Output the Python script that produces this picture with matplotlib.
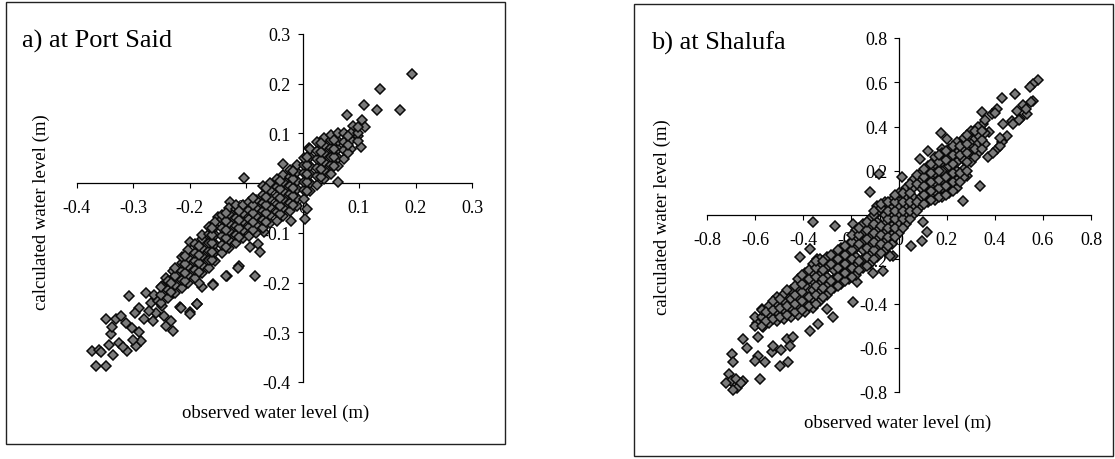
import matplotlib.pyplot as plt
from matplotlib.patches import Rectangle

plt.rcParams.update({
    'font.family': 'serif',
    'font.serif': ['Liberation Serif', 'DejaVu Serif'],
    'axes.linewidth': 0.9,
})

# ---- data (observed, calculated), metres ----
# a) Port Said: scattered points
obs_a_out = [0.193, 0.137, 0.108, 0.131, 0.172, 0.079, 0.105, 0.110, 0.099, 0.090,
             0.104, 0.063, -0.103, -0.035, 0.012, 0.008, 0.004, -0.021,
             -0.069, -0.078, -0.093, -0.075, -0.084, -0.113, -0.134, -0.158, -0.178,
             -0.199, -0.187, -0.216, -0.199, -0.128, -0.149,
             -0.366, -0.348, -0.372, -0.360, -0.342, -0.324, -0.310, -0.295, -0.286,
             -0.339, -0.348, -0.330, -0.313, -0.301, -0.307, -0.289, -0.277, -0.268,
             -0.280, -0.265, -0.248, -0.259, -0.245, -0.242, -0.233, -0.230, -0.248,
             -0.242, -0.230, -0.230, -0.215, -0.200, -0.186, -0.183, -0.159, -0.135,
             -0.115, -0.356, -0.335, -0.318, -0.300, -0.290, -0.338, -0.322, -0.296,
             -0.272, -0.262, -0.255]
calc_a_out = [0.219, 0.189, 0.157, 0.147, 0.147, 0.137, 0.128, 0.112, 0.095, 0.115,
              0.072, 0.002, 0.011, 0.039, 0.070, -0.053, -0.073, -0.077,
              -0.099, -0.122, -0.128, -0.139, -0.186, -0.166, -0.186, -0.203, -0.209,
              -0.260, -0.243, -0.250, -0.119, -0.037, -0.069,
              -0.368, -0.368, -0.338, -0.335, -0.325, -0.321, -0.338, -0.328, -0.318,
              -0.304, -0.274, -0.274, -0.281, -0.291, -0.227, -0.251, -0.220, -0.241,
              -0.274, -0.278, -0.247, -0.261, -0.268, -0.288, -0.278, -0.298, -0.207,
              -0.190, -0.177, -0.220, -0.251, -0.264, -0.244, -0.200, -0.204, -0.187,
              -0.170, -0.340, -0.345, -0.330, -0.315, -0.300, -0.290, -0.268, -0.262,
              -0.258, -0.225, -0.238]

# a) Port Said: dense band
obs_a_core = [
    -0.250, -0.250, -0.250,
    -0.238, -0.238, -0.238,
    -0.226, -0.226, -0.226, -0.226,
    -0.214, -0.214, -0.214, -0.214, -0.214,
    -0.202, -0.202, -0.202, -0.202, -0.202,
    -0.190, -0.190, -0.190, -0.190, -0.190,
    -0.178, -0.178, -0.178, -0.178, -0.178, -0.178,
    -0.166, -0.166, -0.166, -0.166, -0.166, -0.166,
    -0.154, -0.154, -0.154, -0.154, -0.154, -0.154,
    -0.142, -0.142, -0.142, -0.142, -0.142, -0.142,
    -0.130, -0.130, -0.130, -0.130, -0.130, -0.130,
    -0.118, -0.118, -0.118, -0.118, -0.118, -0.118,
    -0.106, -0.106, -0.106, -0.106, -0.106,
    -0.094, -0.094, -0.094, -0.094, -0.094,
    -0.082, -0.082, -0.082, -0.082, -0.082,
    -0.070, -0.070, -0.070, -0.070, -0.070, -0.070,
    -0.058, -0.058, -0.058, -0.058, -0.058, -0.058,
    -0.046, -0.046, -0.046, -0.046, -0.046, -0.046,
    -0.034, -0.034, -0.034, -0.034, -0.034, -0.034,
    -0.022, -0.022, -0.022, -0.022, -0.022, -0.022,
    -0.010, -0.010, -0.010, -0.010, -0.010, -0.010,
    0.002, 0.002, 0.002, 0.002, 0.002, 0.002,
    0.014, 0.014, 0.014, 0.014, 0.014, 0.014,
    0.026, 0.026, 0.026, 0.026, 0.026, 0.026,
    0.038, 0.038, 0.038, 0.038, 0.038, 0.038,
    0.050, 0.050, 0.050, 0.050, 0.050, 0.050,
    0.062, 0.062, 0.062, 0.062, 0.062,
    0.074, 0.074, 0.074, 0.074,
    0.086, 0.086, 0.086,
    0.098, 0.098, 0.098,
    # staggered points between the columns above
    -0.232, -0.232,
    -0.208, -0.208, -0.208, -0.208,
    -0.184, -0.184, -0.184, -0.184,
    -0.160, -0.160, -0.160, -0.160, -0.160,
    -0.136, -0.136, -0.136, -0.136, -0.136,
    -0.112, -0.112, -0.112, -0.112,
    -0.088, -0.088, -0.088, -0.088, -0.088,
    -0.064, -0.064, -0.064, -0.064, -0.064,
    -0.040, -0.040, -0.040, -0.040, -0.040,
    -0.016, -0.016, -0.016, -0.016, -0.016,
    0.008, 0.008, 0.008, 0.008, 0.008,
    0.032, 0.032, 0.032, 0.032, 0.032,
    0.056, 0.056, 0.056, 0.056,
    0.080, 0.080, 0.080,
]
calc_a_core = [
    -0.241, -0.225, -0.209,
    -0.231, -0.214, -0.197,
    -0.221, -0.204, -0.187, -0.170,
    -0.211, -0.194, -0.177, -0.160, -0.149,
    -0.201, -0.184, -0.167, -0.150, -0.134,
    -0.191, -0.174, -0.157, -0.140, -0.123,
    -0.181, -0.164, -0.147, -0.130, -0.113, -0.104,
    -0.171, -0.154, -0.137, -0.120, -0.103, -0.089,
    -0.156, -0.139, -0.122, -0.105, -0.088, -0.079,
    -0.141, -0.124, -0.107, -0.090, -0.073, -0.064,
    -0.131, -0.114, -0.097, -0.080, -0.063, -0.049,
    -0.121, -0.104, -0.087, -0.070, -0.053, -0.044,
    -0.111, -0.094, -0.077, -0.060, -0.043,
    -0.106, -0.089, -0.072, -0.055, -0.038,
    -0.101, -0.084, -0.067, -0.050, -0.033,
    -0.091, -0.074, -0.057, -0.040, -0.023, -0.006,
    -0.081, -0.064, -0.047, -0.030, -0.013, 0.001,
    -0.076, -0.059, -0.042, -0.025, -0.008, 0.008,
    -0.066, -0.049, -0.032, -0.015, 0.002, 0.016,
    -0.056, -0.039, -0.022, -0.005, 0.012, 0.026,
    -0.046, -0.029, -0.012, 0.005, 0.022, 0.036,
    -0.031, -0.014, 0.003, 0.020, 0.037, 0.050,
    -0.016, 0.001, 0.018, 0.035, 0.052, 0.068,
    -0.003, 0.014, 0.031, 0.048, 0.065, 0.082,
    0.009, 0.026, 0.043, 0.060, 0.077, 0.090,
    0.019, 0.036, 0.053, 0.070, 0.087, 0.097,
    0.034, 0.051, 0.068, 0.085, 0.100,
    0.049, 0.066, 0.083, 0.100,
    0.069, 0.086, 0.101,
    0.084, 0.100, 0.112,
    # staggered points
    -0.218, -0.201,
    -0.197, -0.180, -0.163, -0.146,
    -0.178, -0.161, -0.144, -0.127,
    -0.155, -0.138, -0.121, -0.104, -0.090,
    -0.128, -0.111, -0.094, -0.077, -0.060,
    -0.108, -0.091, -0.074, -0.057,
    -0.095, -0.078, -0.061, -0.044, -0.030,
    -0.078, -0.061, -0.044, -0.027, -0.010,
    -0.063, -0.046, -0.029, -0.012, 0.004,
    -0.043, -0.026, -0.009, 0.008, 0.025,
    -0.015, 0.002, 0.019, 0.036, 0.053,
    0.012, 0.029, 0.046, 0.063, 0.080,
    0.035, 0.052, 0.069, 0.086,
    0.060, 0.077, 0.094,
]

# b) Shalufa: scattered points
obs_b_out = [0.580, 0.560, 0.545, 0.483, 0.428, 0.560, 0.518, 0.490, 0.532, 0.504,
             0.470, 0.435, 0.407, 0.386, 0.449, 0.428, 0.407, 0.372, 0.345, 0.351,
             0.338, 0.317, 0.174, 0.201, 0.122, 0.088, 0.178, 0.282, 0.338, 0.268,
             0.011, -0.082, -0.121, -0.024, 0.101, 0.115, 0.550, 0.530, 0.500, 0.475,
             0.400, 0.375, 0.420, 0.390, 0.420, 0.050, 0.095, -0.025,
             -0.357, -0.267, -0.190, -0.371, -0.413, -0.343, -0.190, -0.301, -0.274,
             -0.371, -0.336, -0.572, -0.593, -0.565, -0.586, -0.649, -0.635, -0.586,
             -0.600, -0.530, -0.558, -0.496, -0.461, -0.697, -0.690, -0.579, -0.649,
             -0.676, -0.524, -0.710, -0.700, -0.680, -0.720, -0.690, -0.660, -0.468,
             -0.454, -0.490, -0.440, -0.037, -0.065, -0.107, -0.176]
calc_b_out = [0.608, 0.590, 0.580, 0.548, 0.528, 0.517, 0.495, 0.472, 0.457, 0.434,
              0.427, 0.412, 0.480, 0.457, 0.359, 0.329, 0.299, 0.261, 0.465, 0.412,
              0.374, 0.344, 0.371, 0.344, 0.291, 0.253, 0.299, 0.178, 0.133, 0.065,
              0.171, 0.186, 0.103, 0.050, -0.033, -0.078, 0.510, 0.480, 0.430, 0.410,
              0.460, 0.375, 0.310, 0.280, 0.350, -0.140, -0.116, -0.184,
              -0.033, -0.048, -0.041, -0.154, -0.191, -0.199, -0.395, -0.425, -0.463,
              -0.523, -0.493, -0.425, -0.486, -0.508, -0.553, -0.561, -0.599, -0.636,
              -0.659, -0.621, -0.666, -0.682, -0.666, -0.629, -0.666, -0.742, -0.750,
              -0.780, -0.591, -0.720, -0.750, -0.740, -0.760, -0.790, -0.760, -0.561,
              -0.590, -0.610, -0.550, -0.184, -0.252, -0.260, -0.305]

# b) Shalufa: dense band
obs_b_core = [
    -0.60, -0.60,
    -0.57, -0.57, -0.57,
    -0.54, -0.54, -0.54,
    -0.51, -0.51, -0.51, -0.51,
    -0.48, -0.48, -0.48, -0.48,
    -0.45, -0.45, -0.45, -0.45,
    -0.42, -0.42, -0.42, -0.42, -0.42,
    -0.39, -0.39, -0.39, -0.39, -0.39, -0.39,
    -0.36, -0.36, -0.36, -0.36, -0.36, -0.36,
    -0.33, -0.33, -0.33, -0.33, -0.33, -0.33,
    -0.30, -0.30, -0.30, -0.30, -0.30,
    -0.27, -0.27, -0.27, -0.27, -0.27,
    -0.24, -0.24, -0.24, -0.24, -0.24,
    -0.21, -0.21, -0.21, -0.21, -0.21,
    -0.18, -0.18, -0.18, -0.18, -0.18, -0.18,
    -0.15, -0.15, -0.15, -0.15, -0.15, -0.15,
    -0.12, -0.12, -0.12, -0.12, -0.12, -0.12,
    -0.09, -0.09, -0.09, -0.09, -0.09, -0.09, -0.09,
    -0.06, -0.06, -0.06, -0.06, -0.06, -0.06, -0.06,
    -0.03, -0.03, -0.03, -0.03, -0.03, -0.03,
    0.00, 0.00, 0.00, 0.00, 0.00, 0.00,
    0.03, 0.03, 0.03, 0.03, 0.03,
    0.06, 0.06, 0.06, 0.06, 0.06,
    0.09, 0.09, 0.09, 0.09, 0.09,
    0.12, 0.12, 0.12, 0.12, 0.12,
    0.15, 0.15, 0.15, 0.15, 0.15, 0.15,
    0.18, 0.18, 0.18, 0.18, 0.18, 0.18,
    0.21, 0.21, 0.21, 0.21, 0.21, 0.21,
    0.24, 0.24, 0.24, 0.24, 0.24, 0.24,
    0.27, 0.27, 0.27, 0.27, 0.27,
    0.30, 0.30, 0.30, 0.30,
    0.33, 0.33, 0.33, 0.33,
    0.36, 0.36, 0.36,
    # staggered points between the columns above
    -0.555, -0.555,
    -0.525, -0.525, -0.525,
    -0.495, -0.495, -0.495,
    -0.465, -0.465, -0.465,
    -0.435, -0.435, -0.435, -0.435,
    -0.405, -0.405, -0.405, -0.405, -0.405,
    -0.375, -0.375, -0.375, -0.375,
    -0.345, -0.345, -0.345, -0.345, -0.345, -0.345,
    -0.315, -0.315, -0.315, -0.315, -0.315,
    -0.285, -0.285, -0.285, -0.285,
    -0.255, -0.255, -0.255, -0.255, -0.255,
    -0.225, -0.225, -0.225, -0.225, -0.225,
    -0.195, -0.195, -0.195, -0.195, -0.195, -0.195,
    -0.165, -0.165, -0.165, -0.165, -0.165,
    -0.135, -0.135, -0.135, -0.135, -0.135, -0.135,
    -0.105, -0.105, -0.105, -0.105, -0.105, -0.105, -0.105,
    -0.075, -0.075, -0.075, -0.075, -0.075, -0.075,
    -0.045, -0.045, -0.045, -0.045, -0.045, -0.045,
    -0.015, -0.015, -0.015, -0.015, -0.015, -0.015,
    0.015, 0.015, 0.015, 0.015, 0.015,
    0.045, 0.045, 0.045, 0.045, 0.045,
    0.075, 0.075, 0.075, 0.075,
    0.105, 0.105, 0.105, 0.105, 0.105,
    0.135, 0.135, 0.135, 0.135, 0.135,
    0.165, 0.165, 0.165, 0.165, 0.165, 0.165,
    0.195, 0.195, 0.195, 0.195, 0.195,
    0.225, 0.225, 0.225, 0.225, 0.225, 0.225,
    0.255, 0.255, 0.255, 0.255,
    0.285, 0.285, 0.285, 0.285, 0.285,
    0.315, 0.315, 0.315,
    0.345, 0.345, 0.345,
]
calc_b_core = [
    -0.50, -0.46,
    -0.50, -0.46, -0.43,
    -0.49, -0.45, -0.41,
    -0.48, -0.44, -0.40, -0.37,
    -0.47, -0.43, -0.39, -0.355,
    -0.46, -0.42, -0.38, -0.34,
    -0.45, -0.41, -0.37, -0.33, -0.29,
    -0.44, -0.40, -0.36, -0.32, -0.28, -0.26,
    -0.42, -0.38, -0.34, -0.30, -0.26, -0.22,
    -0.39, -0.35, -0.31, -0.27, -0.23, -0.20,
    -0.36, -0.32, -0.28, -0.24, -0.19,
    -0.33, -0.29, -0.25, -0.21, -0.18,
    -0.31, -0.27, -0.23, -0.19, -0.15,
    -0.29, -0.25, -0.21, -0.17, -0.13,
    -0.27, -0.23, -0.19, -0.15, -0.11, -0.07,
    -0.24, -0.20, -0.16, -0.12, -0.08, -0.04,
    -0.22, -0.18, -0.14, -0.10, -0.06, -0.02,
    -0.19, -0.15, -0.11, -0.07, -0.03, 0.01, 0.04,
    -0.16, -0.12, -0.08, -0.04, 0.00, 0.04, 0.06,
    -0.13, -0.09, -0.05, -0.01, 0.03, 0.07,
    -0.08, -0.04, 0.00, 0.04, 0.08, 0.10,
    -0.04, 0.00, 0.04, 0.08, 0.12,
    0.00, 0.04, 0.08, 0.12, 0.16,
    0.04, 0.08, 0.12, 0.16, 0.19,
    0.06, 0.10, 0.14, 0.18, 0.22,
    0.07, 0.11, 0.15, 0.19, 0.23, 0.26,
    0.08, 0.12, 0.16, 0.20, 0.24, 0.28,
    0.10, 0.14, 0.18, 0.22, 0.26, 0.30,
    0.12, 0.16, 0.20, 0.24, 0.28, 0.33,
    0.17, 0.21, 0.25, 0.29, 0.35,
    0.24, 0.28, 0.32, 0.38,
    0.28, 0.32, 0.36, 0.40,
    0.32, 0.37, 0.43,
    # staggered points
    -0.48, -0.44,
    -0.47, -0.43, -0.39,
    -0.46, -0.42, -0.38,
    -0.45, -0.41, -0.34,
    -0.44, -0.40, -0.36, -0.32,
    -0.43, -0.39, -0.35, -0.31, -0.27,
    -0.41, -0.37, -0.29, -0.25,
    -0.40, -0.36, -0.32, -0.28, -0.24, -0.21,
    -0.37, -0.33, -0.29, -0.25, -0.21,
    -0.34, -0.30, -0.22, -0.18,
    -0.32, -0.28, -0.24, -0.20, -0.16,
    -0.30, -0.26, -0.22, -0.18, -0.14,
    -0.28, -0.24, -0.20, -0.16, -0.12, -0.09,
    -0.25, -0.21, -0.13, -0.09, -0.06,
    -0.23, -0.19, -0.15, -0.11, -0.07, -0.03,
    -0.20, -0.16, -0.12, -0.08, -0.04, 0.00, 0.02,
    -0.17, -0.13, -0.09, -0.05, 0.03, 0.05,
    -0.14, -0.10, -0.06, -0.02, 0.02, 0.06,
    -0.10, -0.06, -0.02, 0.02, 0.06, 0.09,
    -0.06, -0.02, 0.02, 0.06, 0.10,
    -0.02, 0.02, 0.06, 0.10, 0.14,
    0.02, 0.06, 0.14, 0.18,
    0.05, 0.09, 0.13, 0.17, 0.21,
    0.07, 0.11, 0.15, 0.19, 0.23,
    0.08, 0.12, 0.16, 0.20, 0.24, 0.27,
    0.09, 0.13, 0.17, 0.25, 0.29,
    0.11, 0.15, 0.19, 0.23, 0.27, 0.31,
    0.15, 0.19, 0.27, 0.31,
    0.20, 0.24, 0.28, 0.32, 0.36,
    0.26, 0.30, 0.38,
    0.30, 0.34, 0.38,
]

ticks_a = [-0.4, -0.3, -0.2, -0.1, 0.0, 0.1, 0.2, 0.3]
ticks_b = [-0.8, -0.6, -0.4, -0.2, 0.0, 0.2, 0.4, 0.6, 0.8]

W, H = 1115, 460
fig = plt.figure(figsize=(W / 100, H / 100), dpi=100)


def fx(px):
    return px / W


def fy(py):
    return 1 - py / H


def tick_text(v):
    return '0' if abs(v) < 1e-9 else f'{v:g}'


def panel(rect, obs, calc, ticks, title, title_pos, ylab_pos, xlab_pos, frame):
    x0, y0, x1, y1 = rect
    ax = fig.add_axes([fx(x0), fy(y1), fx(x1 - x0), (y1 - y0) / H])
    ax.plot(obs, calc, linestyle='none', marker='D', ms=5.2,
            mfc='#7a7a7a', mec='#0a0a0a', mew=1.1, zorder=3, clip_on=False)
    ax.set_xlim(ticks[0], ticks[-1])
    ax.set_ylim(ticks[0], ticks[-1])
    ax.set_xticks(ticks)
    ax.set_xticklabels([tick_text(t) for t in ticks])
    ax.set_yticks(ticks)
    ax.set_yticklabels([tick_text(t) for t in ticks])
    ax.spines[['top', 'right']].set_visible(False)
    ax.spines['left'].set_position(('data', 0))
    ax.spines['bottom'].set_position(('data', 0))
    ax.patch.set_visible(False)
    ax.set_axisbelow(True)
    ax.tick_params(direction='out', length=3.5, width=0.8, labelsize=13)
    ax.tick_params(axis='x', pad=8)
    ax.tick_params(axis='y', pad=5)

    fig.text(fx(title_pos[0]), fy(title_pos[1]), title, fontsize=19,
             ha='left', va='baseline')
    fig.text(fx(ylab_pos[0]), fy(ylab_pos[1]), 'calculated water level (m)',
             fontsize=13.5, rotation=90, ha='center', va='center')
    fig.text(fx(xlab_pos[0]), fy(xlab_pos[1]), 'observed water level (m)',
             fontsize=13.5, ha='center', va='center')

    fl, ft, fr, fb = frame
    fig.add_artist(Rectangle((fx(fl), fy(fb)), fx(fr - fl), (fb - ft) / H,
                             transform=fig.transFigure, fill=False,
                             edgecolor='#222222', linewidth=1.0))
    return ax


panel((76.5, 35, 472, 383), obs_a_out + obs_a_core, calc_a_out + calc_a_core,
      ticks_a, 'a) at Port Said', (22, 48), (41.5, 212), (275.5, 413),
      (6, 3, 505, 445))
panel((707, 39, 1091, 393), obs_b_out + obs_b_core, calc_b_out + calc_b_core,
      ticks_b, 'b) at Shalufa', (651.5, 50), (662, 217), (898, 423),
      (634, 5, 1113, 457))

fig.savefig('out.png', dpi=100)
